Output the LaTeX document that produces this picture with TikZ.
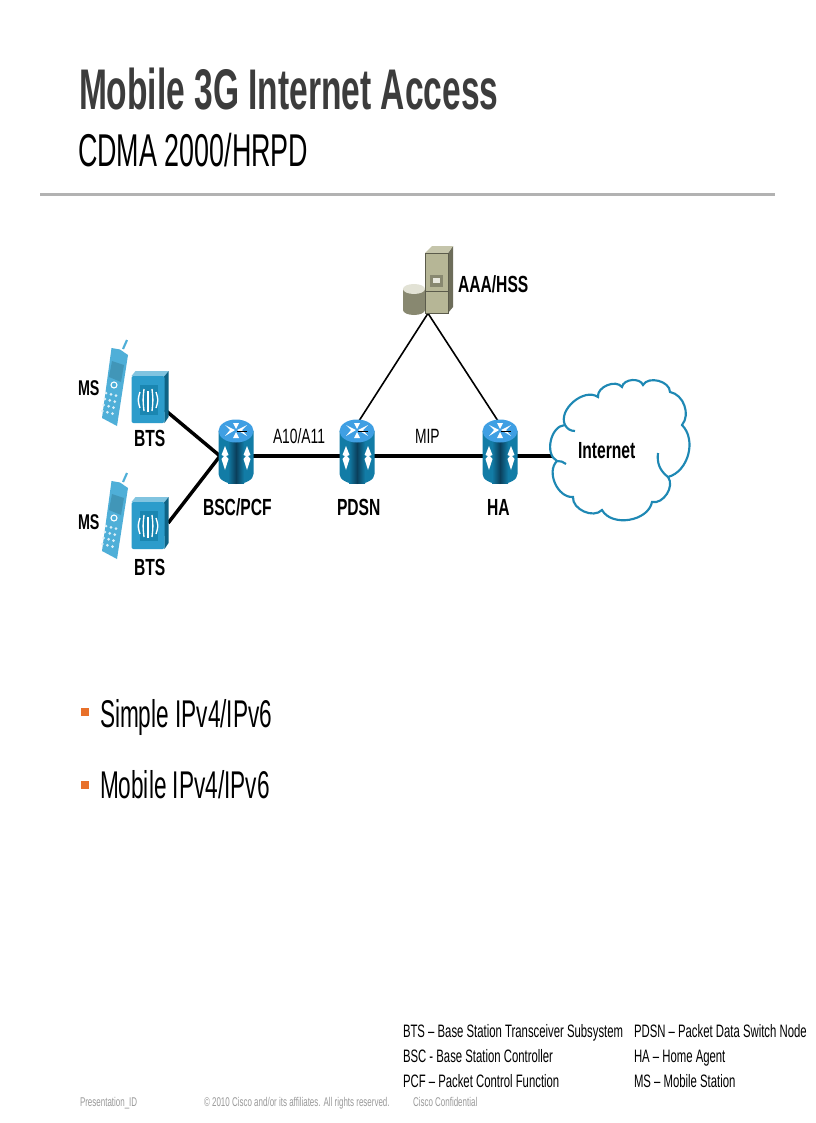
\documentclass[tikz,border=0pt]{standalone}
\usepackage{fontspec}
\setmainfont{Liberation Sans}
\newfontfamily\slimfont[FakeStretch=0.63]{Liberation Sans}
\newfontfamily\midfont[FakeStretch=0.67]{Liberation Sans}
\newfontfamily\tallfont[FakeStretch=0.585]{Liberation Sans}
\usetikzlibrary{positioning}
\definecolor{routerblue}{HTML}{127CA6}
\definecolor{routerdark}{HTML}{0A3F5C}
\definecolor{routertop}{HTML}{3F9FE3}
\definecolor{cloudblue}{HTML}{1E88B4}
\definecolor{btsblue}{HTML}{2C9CCB}
\definecolor{phoneblue}{HTML}{4FAFD8}
\definecolor{khaki}{HTML}{B6B696}
\definecolor{titlegray}{HTML}{3C3C3C}
\definecolor{footgray}{HTML}{9A9A9A}
\definecolor{bulletorange}{HTML}{E8702A}

\tikzset{
    lbl/.style={anchor=base west,inner sep=0pt,outer sep=0pt},
    boldlbl/.style={lbl,font=\midfont\bfseries\fontsize{17.5}{20}\selectfont},
    smallbold/.style={lbl,font=\midfont\bfseries\fontsize{16}{18}\selectfont},
    thinlbl/.style={lbl,font=\midfont\fontsize{15.5}{18}\selectfont},
    notelbl/.style={lbl,font=\slimfont\fontsize{13.5}{16}\selectfont},
    footlbl/.style={lbl,text=footgray,font=\slimfont\fontsize{9.5}{12}\selectfont},
    bullettxt/.style={lbl,font=\tallfont\fontsize{29}{32}\selectfont},
    icon/.style={inner sep=0pt,outer sep=0pt,minimum width=#1},
    backhaul/.style={line width=2.6pt},
    thinlink/.style={line width=1.2pt},
    cloudline/.style={cloudblue,line width=1.6pt},
    pics/router/.style={code={
        \fill[routerblue] (-17.5,-25) -- (-17.5,18) arc[start angle=180,end angle=0,x radius=17.5,y radius=10] -- (17.5,-25) -- cycle;
        \shade[left color=routerblue,right color=routerblue,middle color=routerdark] (-8,-16) -- (8,-16) -- (8,27) -- (-8,27) -- cycle;
        \fill[routertop] (0,-25) ellipse[x radius=17.5,y radius=11.5];
        \fill[white] (-11,-31) -- (-1,-26) -- (-11,-20) -- (-6,-26) -- cycle;
        \fill[white] (11,-31) -- (1,-26) -- (11,-20) -- (6,-26) -- cycle;
        \fill[white] (-3,-33) -- (3,-33) -- (0,-27) -- cycle;
        \fill[white] (-3,-18) -- (3,-18) -- (0,-24) -- cycle;
        \draw[black,line width=.5pt] (1,-25) -- (11,-25);
        \foreach \sx in {-11,11}{
            \fill[white] (\sx,-10) -- (\sx+3.5,-1) -- (\sx+1,0) -- (\sx+3.5,3) -- (\sx,14) -- (\sx-3.5,3) -- (\sx-1,0) -- (\sx-3.5,-1) -- cycle;
        }
    }},
    pics/bts/.style={code={
        \fill[routerblue!80!black] (14,-26) -- (19,-26) -- (19,20) -- (15,26) -- cycle;
        \fill[btsblue!60!white] (-18,-21) -- (-14,-26) -- (19,-26) -- (15,-21) -- cycle;
        \fill[btsblue,rounded corners=1.5pt] (-18,-21) rectangle (15,26);
        \fill[routerblue!70!btsblue] (-10,-12) rectangle (8,18);
        \foreach \sx/\sy in {-8/8,-4/11,4/11,8/8}{
            \draw[white,line width=1pt] (\sx-1.5,-\sy+3) .. controls (\sx*1.3-1.5,3) .. (\sx-1.5,\sy+3);
        }
        \draw[white,line width=1pt] (-1.5,-6) -- (-1.5,15);
    }},
    pics/phone/.style={code={
        \draw[phoneblue,line width=1.6pt] (8,-36) -- (12,-45);
        \fill[phoneblue] (-3.5,-37) -- (5,-35.5) -- (13,-30) -- (2,41) -- (-13,33) -- cycle;
        \fill[routerblue!80!white] (-3,-24) -- (9,-20) -- (6,-3) -- (-6,-8) -- cycle;
        \draw[white,line width=.8pt] (-1,0) circle (3);
        \foreach \rowy in {0,1,2,3}{
            \foreach \colx in {0,1,2}{
                \fill[white!80!phoneblue] (-9+\colx*5-\rowy*1.2,8+\rowy*6+\colx*1.3) circle (1.5);
            }
        }
    }},
    pics/server/.style={code={
        \fill[khaki!60!black] (20,-27) -- (25,-34) -- (25,27) -- (20,33) -- cycle;
        \fill[khaki!80!white] (-3,-27) -- (4,-34) -- (25,-34) -- (20,-27) -- cycle;
        \fill[khaki] (-3,-27) rectangle (20,33);
        \draw[khaki!50!black,line width=.5pt] (-3,-27) rectangle (20,33) (-3,11) -- (20,11);
        \fill[khaki!75!black] (2,-5) rectangle (15,7);
        \fill[white!70!khaki] (5,-2) rectangle (12,3);
        \fill[khaki!75!black] (-25,9) rectangle (-3,30);
        \fill[khaki!75!black] (-14,30) ellipse[x radius=11,y radius=5];
        \fill[khaki!40!white] (-14,9) ellipse[x radius=11,y radius=5];
    }},
}

\begin{document}
\begin{tikzpicture}[x=0.75pt,y=-0.75pt]
    \useasboundingbox[fill=white] (0,0) rectangle (816,1123);

    % title
    \node[lbl,text=titlegray,font=\tallfont\bfseries\fontsize{43}{46}\selectfont] (title) at (79,110) {Mobile 3G Internet Access};
    \node[lbl,font=\tallfont\fontsize{34.5}{38}\selectfont] (subtitle) at (78,167) {CDMA 2000/HRPD};
    \fill[black!30] (40,193.5) rectangle (775,196.5);

    % places of the boxes
    \node[icon=35pt,minimum height=48pt] (bsc) at (236,456) {};
    \node[icon=35pt,minimum height=48pt] (pdsn) at (357,456) {};
    \node[icon=35pt,minimum height=48pt] (ha) at (500,456) {};
    \node[icon=28pt,minimum height=38pt] (btsa) at (149.5,397) {};
    \node[icon=28pt,minimum height=38pt] (btsb) at (149.5,523) {};
    \node[icon=36pt,minimum height=50pt] (aaa) at (428,280) {};
    \coordinate (bscin) at (220,456);
    \coordinate (cloudin) at (556,456);

    % links
    \draw[backhaul] (btsa.center) -- (bscin);
    \draw[backhaul] (btsb.east) -- (bscin);
    \draw[backhaul] (bsc.center) -- (pdsn.center);
    \draw[backhaul] (pdsn.center) -- (ha.center);
    \draw[backhaul] (ha.center) -- (cloudin);
    \draw[thinlink] (aaa.south) -- (pdsn.north);
    \draw[thinlink] (aaa.south) -- (ha.north);

    % icons
    \pic at (bsc) {router};
    \pic at (pdsn) {router};
    \pic at (ha) {router};
    \pic at (btsa) {bts};
    \pic at (btsb) {bts};
    \pic at (115,385) {phone};
    \pic at (115,518) {phone};
    \pic at (aaa) {server};

    % cloud
    \draw[cloudline,fill=white]
        (557,461) to[bend left=75] (565,425)
        to[bend left=75] (598,397)
        to[bend left=75] (622,387)
        to[bend left=75] (643,385)
        to[bend left=75] (670,392)
        to[bend left=60] (682,425)
        to[bend left=60] (668,477)
        to[bend left=70] (652,502)
        to[bend left=70] (602,510)
        to[bend left=70] (573,497)
        to[bend left=70] cycle;
    \draw[cloudline] (668,477) to[bend left=30] (658,453);
    \draw[cloudline] (565,425) to[bend right=30] (575,431);
    \draw[cloudline] (557,461) to[bend left=20] (566,464);

    % labels
    \node[smallbold] (msa) at (78,395) {MS};
    \node[smallbold] (msb) at (78,529) {MS};
    \node[boldlbl] (btsalbl) at (134,446) {BTS};
    \node[boldlbl] (btsblbl) at (134,575) {BTS};
    \node[boldlbl] (bsclbl) at (203,515) {BSC/PCF};
    \node[boldlbl] (pdsnlbl) at (337,515) {PDSN};
    \node[boldlbl] (halbl) at (487,515) {HA};
    \node[boldlbl] (aaalbl) at (458,292) {AAA/HSS};
    \node[boldlbl] (inetlbl) at (578,458) {Internet};
    \node[thinlbl] (a10) at (273,443) {A10/A11};
    \node[thinlbl] (mip) at (415,443) {MIP};

    % bullets
    \foreach \ypos in {712,785}{
        \fill[bulletorange] (81,\ypos-4) rectangle (89,\ypos+4);
    }
    \node[bullettxt] (simple) at (100,727) {Simple IPv4/IPv6};
    \node[bullettxt] (mobile) at (100,798) {Mobile IPv4/IPv6};

    % notes
    \node[notelbl] (n1) at (403,1037) {BTS – Base Station Transceiver Subsystem};
    \node[notelbl] (n2) at (403,1062) {BSC - Base Station Controller};
    \node[notelbl] (n3) at (403,1087) {PCF – Packet Control Function};
    \node[notelbl] (n4) at (634,1037) {PDSN – Packet Data Switch Node};
    \node[notelbl] (n5) at (634,1062) {HA – Home Agent};
    \node[notelbl] (n6) at (634,1087) {MS – Mobile Station};

    \node[footlbl] (f1) at (80,1106) {Presentation\_ID};
    \node[footlbl] (f2) at (204,1106) {© 2010 Cisco and/or its affiliates. All rights reserved.};
    \node[footlbl] (f3) at (413,1106) {Cisco Confidential};
\end{tikzpicture}
\end{document}
